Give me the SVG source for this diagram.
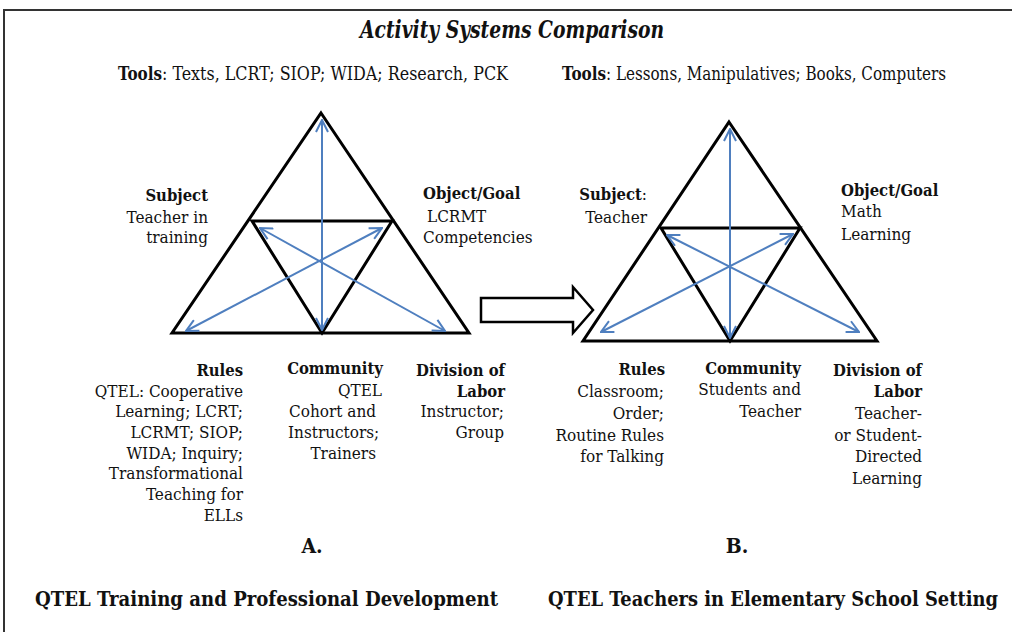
<svg xmlns="http://www.w3.org/2000/svg" width="1012" height="632" viewBox="0 0 1012 632">
<style>
  text { font-family: "DejaVu Serif", serif; font-stretch: condensed; fill: #111; }
  .b { font-weight: bold; font-size: 16.5px; }
  .lbl { font-size: 17px; }
  .r { text-anchor: end; }
  .tri { fill: none; stroke: #000; stroke-width: 3; stroke-linejoin: miter; }
  .blue { fill: none; stroke: #4f7fbf; stroke-width: 2; marker-start: url(#ah); marker-end: url(#ah); }
  .big { font-weight: bold; font-size: 20px; }
</style>
<defs>
  <marker id="ah" viewBox="0 0 14 14" refX="13" refY="7" markerWidth="14" markerHeight="14" markerUnits="userSpaceOnUse" orient="auto-start-reverse">
    <path d="M1,1 L13,7 L1,13" fill="none" stroke="#4f7fbf" stroke-width="2"/>
  </marker>
</defs>
<rect x="4" y="10" width="1030" height="650" fill="#fff" stroke="#333" stroke-width="2"/>

<text x="512" y="38" text-anchor="middle" font-weight="bold" font-style="italic" font-size="24" textLength="304" lengthAdjust="spacingAndGlyphs">Activity Systems Comparison</text>

<g id="tools-a">
  <text x="118" y="80" font-size="18" font-weight="bold" textLength="44" lengthAdjust="spacingAndGlyphs">Tools</text>
  <text x="162" y="80" font-size="18" textLength="346" lengthAdjust="spacingAndGlyphs">: Texts, LCRT; SIOP; WIDA; Research, PCK</text>
</g>
<g id="tools-b">
  <text x="562" y="80" font-size="18" font-weight="bold" textLength="44" lengthAdjust="spacingAndGlyphs">Tools</text>
  <text x="606" y="80" font-size="18" textLength="340" lengthAdjust="spacingAndGlyphs">: Lessons, Manipulatives; Books, Computers</text>
</g>

<g id="triangle-a">
  <path class="tri" d="M321,113 L469,333 L172,333 Z"/>
  <path class="tri" d="M252,221 L392,221 L322,333 Z"/>
</g>
<g id="triangle-b">
  <path class="tri" d="M729,122 L877,341 L583,341 Z"/>
  <path class="tri" d="M661,228 L800,228 L730,341 Z"/>
</g>

<g id="connectors">
  <line class="blue" x1="322" y1="330" x2="322" y2="120"/>
  <line class="blue" x1="186" y1="331" x2="382" y2="228"/>
  <line class="blue" x1="260" y1="228" x2="445" y2="331"/>
  <line class="blue" x1="730" y1="338" x2="730" y2="129"/>
  <line class="blue" x1="601" y1="332" x2="793" y2="234"/>
  <line class="blue" x1="667" y1="235" x2="859" y2="332"/>
  <path d="M481,298 L573,298 L573,287 L593,310 L573,333 L573,322 L481,322 Z" fill="#fff" stroke="#000" stroke-width="2.5" stroke-linejoin="miter"/>
</g>

<g id="subject-a" class="lbl">
  <text x="208" y="201" class="r b">Subject</text>
  <text x="208" y="223" class="r">Teacher in</text>
  <text x="208" y="243" class="r">training</text>
</g>
<g id="object-a" class="lbl">
  <text x="423" y="199" class="b">Object/Goal</text>
  <text x="427" y="222">LCRMT</text>
  <text x="423" y="243">Competencies</text>
</g>
<g id="rules-a" class="lbl">
  <text x="243" y="376" class="r b">Rules</text>
  <text x="243" y="397" class="r">QTEL: Cooperative</text>
  <text x="243" y="417" class="r">Learning; LCRT;</text>
  <text x="243" y="438" class="r">LCRMT; SIOP;</text>
  <text x="243" y="459" class="r">WIDA; Inquiry;</text>
  <text x="243" y="479" class="r">Transformational</text>
  <text x="243" y="500" class="r">Teaching for</text>
  <text x="243" y="521" class="r">ELLs</text>
</g>
<g id="community-a" class="lbl">
  <text x="383" y="374" class="r b">Community</text>
  <text x="382" y="396" class="r">QTEL</text>
  <text x="289" y="417">Cohort and</text>
  <text x="288" y="438">Instructors;</text>
  <text x="376" y="459" class="r">Trainers</text>
</g>
<g id="division-a" class="lbl">
  <text x="505" y="376" class="r b">Division of</text>
  <text x="505" y="397" class="r b">Labor</text>
  <text x="504" y="417" class="r">Instructor;</text>
  <text x="504" y="438" class="r">Group</text>
</g>
<text x="312" y="553" text-anchor="middle" font-weight="bold" font-size="21">A.</text>

<g id="subject-b" class="lbl">
  <text x="647" y="200" class="r"><tspan font-weight="bold" font-size="16.5">Subject</tspan>:</text>
  <text x="647" y="223" class="r">Teacher</text>
</g>
<g id="object-b" class="lbl">
  <text x="841" y="196" class="b">Object/Goal</text>
  <text x="841" y="217">Math</text>
  <text x="841" y="240">Learning</text>
</g>
<g id="rules-b" class="lbl">
  <text x="665" y="375" class="r b">Rules</text>
  <text x="664" y="397" class="r">Classroom;</text>
  <text x="664" y="419" class="r">Order;</text>
  <text x="664" y="441" class="r">Routine Rules</text>
  <text x="664" y="462" class="r">for Talking</text>
</g>
<g id="community-b" class="lbl">
  <text x="801" y="374" class="r b">Community</text>
  <text x="801" y="395" class="r">Students and</text>
  <text x="801" y="417" class="r">Teacher</text>
</g>
<g id="division-b" class="lbl">
  <text x="922" y="376" class="r b">Division of</text>
  <text x="922" y="397" class="r b">Labor</text>
  <text x="922" y="419" class="r">Teacher-</text>
  <text x="922" y="441" class="r">or Student-</text>
  <text x="922" y="462" class="r">Directed</text>
  <text x="922" y="484" class="r">Learning</text>
</g>
<text x="737" y="553" text-anchor="middle" font-weight="bold" font-size="21">B.</text>

<text x="35" y="606" class="big" textLength="463" lengthAdjust="spacingAndGlyphs">QTEL Training and Professional Development</text>
<text x="548" y="606" class="big" textLength="450" lengthAdjust="spacingAndGlyphs">QTEL Teachers in Elementary School Setting</text>
</svg>
